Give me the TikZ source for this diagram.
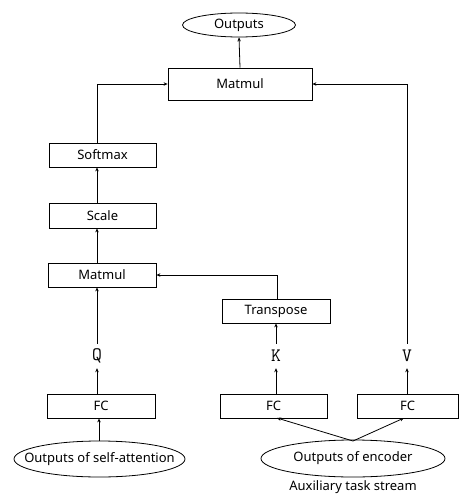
\documentclass[tikz,border=0pt]{standalone}
\usepackage{fontspec}
\setmainfont{Noto Sans}
\usetikzlibrary{shapes.geometric,arrows.meta,calc}
\begin{document}
\begin{tikzpicture}[x=1pt,y=-1pt,
  every node/.style={font=\fontsize{13}{15}\selectfont, inner sep=0pt},
  box/.style={draw, line width=0.8pt, rectangle},
  oval/.style={draw, line width=0.8pt, ellipse},
  lbl/.style={font=\ttfamily\fontsize{19}{20}\selectfont, minimum height=24pt, minimum width=12pt},
  arr/.style={line width=0.8pt, -{Stealth[length=4pt,width=3.5pt]}},
  ln/.style={line width=0.8pt}]
\useasboundingbox (0,0) rectangle (459,495);
\node[oval, minimum width=113pt, minimum height=24pt] (out) at (239,25) {Outputs};
\node[box, minimum width=144pt, minimum height=32pt] (mm) at (240,84) {Matmul};
\node[box, minimum width=107pt, minimum height=24pt] (soft) at (102.5,155) {Softmax};
\node[box, minimum width=107pt, minimum height=25pt] (scale) at (102.5,215.5) {Scale};
\node[box, minimum width=108pt, minimum height=24pt] (mm2) at (102,275) {Matmul};
\node[box, minimum width=108pt, minimum height=24pt] (tr) at (276,311) {Transpose};
\node[lbl] (q) at (97,356) {Q};
\node[lbl] (k) at (276,356) {K};
\node[lbl] (v) at (407,356) {V};
\node[box, minimum width=108pt, minimum height=24pt] (fc1) at (101,406) {FC};
\node[box, minimum width=107pt, minimum height=24pt] (fc2) at (273.5,406) {FC};
\node[box, minimum width=101pt, minimum height=24pt] (fc3) at (407.5,406) {FC};
\node[oval, minimum width=171pt, minimum height=36pt] (e1) at (99.5,459) {};
\node at (99.5,459) {Outputs of self-attention};
\node[oval, minimum width=184pt, minimum height=37pt] (e2) at (353,458.5) {Outputs of encoder};
\node (aux) at (353,487) {Auxiliary task stream};
\coordinate (colL) at (97,0);
\coordinate (colM) at (277,0);
\coordinate (colE) at (99,0);
\coordinate (join) at (353,441);
\coordinate (fc2in) at (277,418);
\coordinate (fc3in) at (404,418);
\draw[arr] (mm.north) -- (out.south);
\draw[arr] (soft.north -| colL) |- (mm.west);
\draw[arr] (v.north) |- (mm.east);
\draw[arr] (scale.north -| colL) -- (soft.south -| colL);
\draw[arr] (mm2.north -| colL) -- (scale.south -| colL);
\draw[arr] (q.north) -- (mm2.south -| colL);
\draw[arr] (tr.north -| colM) |- (mm2.east);
\draw[arr] (k.north) -- (tr.south -| k);
\draw[arr] (fc1.north -| colL) -- (q.south);
\draw[arr] (fc2.north -| k) -- (k.south);
\draw[arr] (fc3.north -| v) -- (v.south);
\draw[arr] (e1.north -| colE) -- (fc1.south -| colE);
\draw[arr] (join) -- (fc2in);
\draw[arr] (join) -- (fc3in);
\end{tikzpicture}
\end{document}
